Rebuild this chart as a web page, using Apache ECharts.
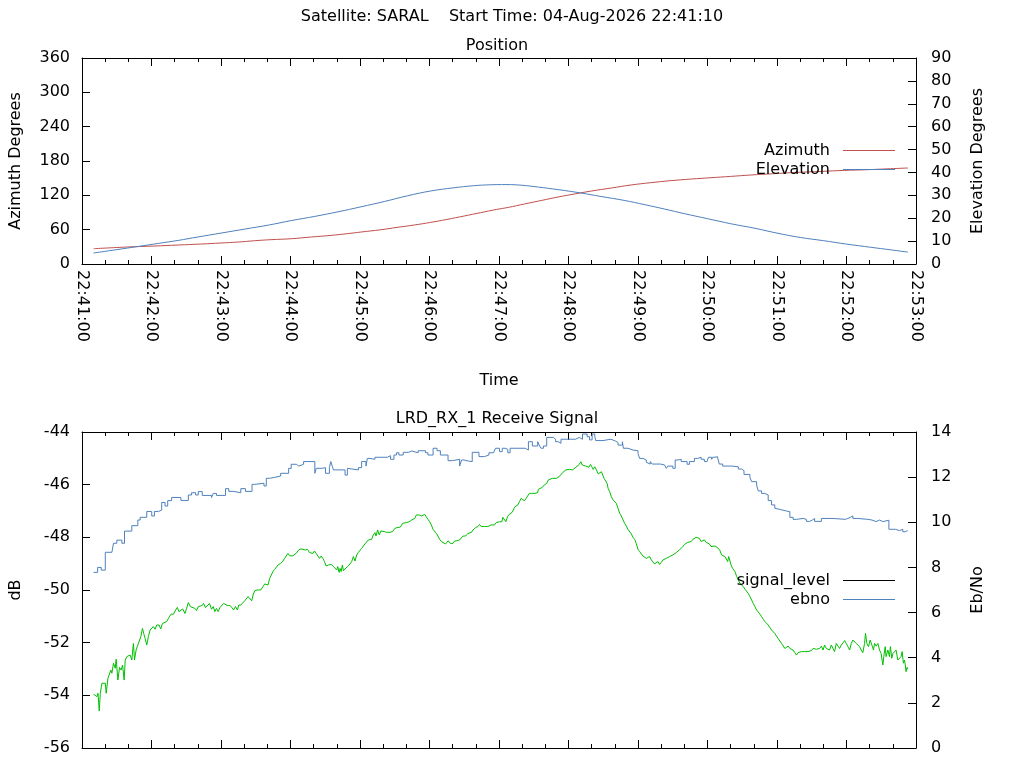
<!DOCTYPE html>
<html>
<head>
    <meta charset="utf-8">
    <title>SARAL pass</title>
    <script src="https://cdn.jsdelivr.net/npm/echarts@6/dist/echarts.min.js"></script>
    <style>
        html, body {
            margin: 0;
            padding: 0;
            background: #ffffff;
        }

        #main {
            width: 1024px;
            height: 768px;
        }
    </style>
</head>
<body>
<div id="main"></div>
<script>
    // time is seconds after 22:41:00
    var timeLabels = ['22:41:00', '22:42:00', '22:43:00', '22:44:00', '22:45:00', '22:46:00', '22:47:00',
        '22:48:00', '22:49:00', '22:50:00', '22:51:00', '22:52:00', '22:53:00'];

    var azimuth = [[10, 26.7], [39, 29.7], [62, 31.4], [83, 33.2], [103, 34.9], [120, 36.7], [135, 38.4], [149, 40.7],
        [163, 42.5], [181, 44.2], [198, 47.2], [215, 50.0], [229, 53.0], [241, 55.9], [258, 59.9], [272, 64.0],
        [287, 68.2], [301, 72.7], [315, 77.9], [330, 83.9], [344, 89.7], [358, 95.4], [368, 98.9], [382, 104.9],
        [397, 111.2], [411, 117.1], [425, 122.3], [440, 127.6], [457, 132.8], [474, 138.1], [491, 142.1],
        [508, 145.6], [526, 148.5], [543, 150.8], [560, 153.1], [577, 155.5], [597, 157.8], [617, 160.1],
        [638, 161.8], [658, 163.6], [678, 164.8], [698, 166.5], [713, 167.8]];

    var elevation = [[10, 4.8], [29, 6.2], [49, 7.7], [66, 9.0], [83, 10.3], [100, 11.8], [120, 13.5], [141, 15.3],
        [161, 17.0], [181, 19.0], [201, 20.8], [221, 22.8], [241, 25.0], [261, 27.3], [281, 29.8], [301, 31.9],
        [321, 33.3], [338, 34.2], [352, 34.6], [366, 34.7], [380, 34.4], [394, 33.6], [411, 32.5], [431, 31.0],
        [448, 29.5], [468, 27.8], [486, 25.9], [503, 24.0], [520, 22.0], [540, 19.8], [560, 17.6], [581, 15.6],
        [600, 13.5], [620, 11.6], [640, 10.2], [660, 8.7], [681, 7.3], [698, 6.2], [713, 5.2]];

    var signalLevel = [[10.0, -53.96], [11.5, -53.92], [12.9, -54.05], [13.8, -53.92], [14.9, -54.59], [15.8, -53.92],
        [17.2, -53.54], [18.6, -53.61], [20.1, -53.54], [20.9, -53.92], [22.4, -53.35], [23.5, -53.29], [24.9, -53.04],
        [25.8, -53.16], [27.2, -52.78], [28.7, -52.97], [29.5, -52.63], [31.0, -53.42], [32.4, -52.94], [33.8, -53.04],
        [35.0, -52.85], [36.4, -53.42], [37.3, -52.66], [38.7, -52.53], [40.1, -52.53], [41.6, -52.47], [43.0, -52.66],
        [44.4, -52.03], [45.3, -52.66], [46.7, -52.28], [48.2, -52.09], [49.3, -52.03], [50.8, -51.77], [52.2, -51.46],
        [53.3, -51.65], [54.5, -51.84], [55.9, -52.09], [57.3, -51.77], [58.8, -51.52], [60.2, -51.58], [61.6, -51.39],
        [63.1, -51.49], [64.5, -51.33], [66.5, -51.33], [68.0, -51.48], [69.4, -51.27], [71.1, -51.27], [73.1, -51.20],
        [75.1, -51.04], [76.8, -50.92], [78.9, -50.92], [80.9, -50.76], [82.3, -50.66], [83.7, -50.82], [85.4, -50.82],
        [86.9, -50.72], [88.9, -50.89], [90.3, -50.70], [91.8, -50.48], [93.5, -50.63], [95.2, -50.67], [97.5, -50.70],
        [98.9, -50.78], [100.4, -50.63], [102.1, -50.63], [103.8, -50.59], [104.9, -50.51], [106.7, -50.67],
        [108.4, -50.63], [110.1, -50.51], [111.8, -50.73], [113.3, -50.63], [114.7, -50.82], [116.1, -50.70],
        [117.6, -50.82], [119.0, -50.67], [120.4, -50.70], [122.2, -50.51], [123.3, -50.57], [125.6, -50.59],
        [127.6, -50.59], [129.6, -50.67], [130.8, -50.76], [132.5, -50.63], [134.2, -50.76], [135.3, -50.57],
        [137.1, -50.57], [138.8, -50.51], [140.5, -50.41], [142.2, -50.34], [143.4, -50.25], [145.1, -50.22],
        [146.5, -50.41], [147.7, -50.19], [149.1, -50.03], [151.4, -50.00], [154.3, -50.00], [156.3, -49.87],
        [157.7, -49.77], [159.1, -49.72], [160.6, -49.81], [162.0, -49.56], [163.4, -49.49], [164.9, -49.30],
        [166.3, -49.22], [167.7, -49.18], [169.2, -49.05], [171.5, -48.99], [173.5, -48.90], [174.9, -48.80],
        [176.3, -48.71], [177.8, -48.61], [179.2, -48.70], [182.1, -48.70], [184.9, -48.61],
        [187.0, -48.48], [189.0, -48.44], [190.7, -48.42], [192.7, -48.48], [194.7, -48.46], [196.4, -48.58],
        [197.8, -48.51], [199.3, -48.61], [200.7, -48.52], [202.2, -48.61], [203.6, -48.67], [205.0, -48.80],
        [206.5, -48.71], [207.9, -48.80], [209.3, -48.92], [210.8, -49.09], [212.8, -49.05], [214.2, -49.09],
        [215.6, -49.03], [217.1, -49.11], [218.5, -49.05], [219.9, -49.24], [220.8, -49.11], [222.0, -49.33],
        [222.8, -49.18], [223.7, -49.30], [224.8, -49.05], [225.7, -49.27], [227.1, -49.22], [229.1, -49.11],
        [231.4, -49.01], [232.8, -48.92], [234.3, -48.73], [235.7, -48.90], [237.1, -48.67], [238.6, -48.57],
        [240.0, -48.51], [241.4, -48.42], [242.9, -48.35], [244.3, -48.25], [245.7, -48.19], [247.2, -48.10],
        [250.0, -48.08], [251.5, -47.91], [252.9, -47.82], [253.8, -47.95], [255.2, -47.72], [256.6, -47.91],
        [258.1, -47.76], [259.5, -47.72], [260.9, -47.78], [262.9, -47.81], [265.8, -47.81], [268.1, -47.78],
        [270.1, -47.66], [272.1, -47.63], [274.9, -47.61], [276.7, -47.47], [278.1, -47.51], [280.1, -47.44],
        [282.4, -47.41], [284.7, -47.34], [287.3, -47.28], [288.7, -47.15], [291.0, -47.15], [293.0, -47.19],
        [294.5, -47.19], [295.9, -47.13], [297.3, -47.19], [298.7, -47.32], [300.2, -47.41], [301.6, -47.53],
        [303.1, -47.70], [304.5, -47.70], [305.9, -47.85], [307.3, -47.95], [308.8, -48.08], [310.2, -48.16],
        [311.6, -48.23], [313.9, -48.25], [315.1, -48.29], [316.2, -48.13], [318.0, -48.23], [320.3, -48.23],
        [321.7, -48.14], [323.7, -48.13], [326.0, -48.10], [327.4, -48.04], [328.9, -47.95], [331.2, -47.95],
        [333.2, -47.85], [336.1, -47.82], [337.5, -47.72], [339.8, -47.63], [341.8, -47.59], [343.2, -47.51],
        [344.7, -47.59], [346.1, -47.66], [347.5, -47.59], [349.0, -47.66], [350.4, -47.59], [351.8, -47.62],
        [353.2, -47.53], [354.7, -47.56], [356.1, -47.53], [357.6, -47.44], [359.0, -47.44], [360.4, -47.41],
        [362.4, -47.41], [363.3, -47.24], [364.7, -47.22],
        [365.9, -47.41], [367.3, -47.22], [368.7, -47.13], [370.5, -47.09], [372.5, -46.96], [373.3, -46.86],
        [374.8, -46.90], [376.2, -46.77], [377.6, -46.65], [379.1, -46.52], [380.5, -46.58], [381.9, -46.61],
        [383.4, -46.52], [384.8, -46.46], [386.2, -46.33], [388.2, -46.33], [391.1, -46.33], [393.4, -46.30],
        [393.9, -46.18], [395.4, -46.14], [397.4, -46.10], [399.1, -46.01], [401.2, -45.95], [402.6, -45.82],
        [404.0, -45.80], [406.0, -45.76], [407.7, -45.80], [409.7, -45.76], [411.8, -45.70], [413.5, -45.66],
        [415.0, -45.54], [416.4, -45.57], [417.8, -45.44], [419.2, -45.51], [420.7, -45.42], [422.1, -45.47],
        [423.5, -45.44], [425.0, -45.42], [426.4, -45.34], [427.8, -45.29], [429.3, -45.23], [430.7, -45.13],
        [431.8, -45.25], [433.3, -45.22], [434.7, -45.29], [436.1, -45.25], [437.6, -45.34], [439.0, -45.23],
        [440.4, -45.34], [441.3, -45.42], [442.7, -45.32], [444.1, -45.44], [445.6, -45.59], [447.0, -45.61],
        [448.4, -45.51], [449.9, -45.57], [450.7, -45.76], [451.9, -45.80], [453.3, -45.95], [454.2, -46.14],
        [455.6, -46.27], [457.0, -46.46], [458.5, -46.58], [459.9, -46.61], [461.3, -46.71], [462.8, -46.90],
        [464.2, -47.09], [465.6, -47.19], [467.1, -47.34], [468.5, -47.47], [469.9, -47.57], [471.4, -47.70],
        [472.8, -47.76], [474.2, -47.87], [475.7, -48.00], [477.1, -48.08], [478.5, -48.23], [480.0, -48.46],
        [481.4, -48.54], [482.8, -48.61], [484.3, -48.71], [485.7, -48.73], [487.2, -48.80], [488.6, -48.80],
        [490.0, -48.73], [491.5, -48.86], [492.9, -48.92], [494.3, -49.01], [495.8, -49.01], [497.2, -48.92],
        [498.6, -49.03], [500.1, -48.95], [501.5, -48.86], [502.9, -48.92], [504.4, -48.80], [505.8, -48.84],
        [507.2, -48.73], [508.7, -48.77], [510.1, -48.67], [511.5, -48.63], [513.0, -48.58], [514.4, -48.51],
        [515.8, -48.48], [517.3, -48.42], [518.7, -48.35], [520.1, -48.27], [521.6, -48.23], [523.0, -48.19],
        [524.4, -48.16], [525.9, -48.16], [527.3, -48.08], [528.7, -48.04], [530.2, -48.00], [531.6, -48.00],
        [533.0, -48.04], [534.5, -48.16], [535.9, -48.10], [537.3, -48.10], [538.8, -48.19], [540.2, -48.23],
        [541.6, -48.25], [543.1, -48.35], [544.5, -48.38],
        [546.5, -48.33], [548.0, -48.35], [549.4, -48.42], [550.8, -48.51], [552.2, -48.67], [553.7, -48.71],
        [555.1, -48.73], [556.6, -48.80], [557.4, -48.92], [558.3, -48.73], [559.4, -48.90], [560.3, -49.05],
        [561.7, -49.18], [563.7, -49.30], [565.2, -49.49], [566.6, -49.62], [568.0, -49.75], [569.5, -49.81],
        [570.9, -49.87], [572.4, -49.97], [573.8, -50.00], [575.2, -50.13], [576.6, -50.25], [578.1, -50.38],
        [579.5, -50.51], [580.9, -50.63], [582.4, -50.76], [583.8, -50.82], [585.2, -50.91], [586.7, -51.01],
        [588.1, -51.11], [589.5, -51.20], [591.0, -51.20], [592.4, -51.33], [593.8, -51.42], [595.3, -51.52],
        [596.7, -51.58], [598.1, -51.65], [599.6, -51.75], [601.0, -51.84], [602.4, -51.90], [603.9, -52.03],
        [605.3, -52.09], [606.8, -52.22], [608.2, -52.18], [609.6, -52.13], [611.1, -52.22], [612.5, -52.22],
        [613.9, -52.28], [615.4, -52.38], [616.8, -52.47], [618.2, -52.38], [619.6, -52.34], [621.1, -52.34],
        [622.5, -52.38], [623.9, -52.34], [625.4, -52.30], [626.8, -52.34], [628.2, -52.28], [629.7, -52.30],
        [631.1, -52.22], [632.5, -52.28], [634.0, -52.25], [635.4, -52.28], [636.8, -52.22], [638.3, -52.13],
        [639.7, -52.28], [641.1, -52.09], [642.6, -52.22], [644.0, -52.15], [645.4, -52.28], [646.9, -52.09],
        [648.3, -52.15], [649.7, -52.34], [651.2, -52.03], [652.6, -52.13], [654.0, -52.22], [655.5, -52.09],
        [656.9, -52.03], [658.4, -51.92], [659.8, -52.03], [661.2, -52.15], [662.7, -52.28], [664.1, -52.03],
        [665.5, -51.90], [667.0, -51.84], [668.4, -52.03], [669.8, -52.09], [671.3, -52.15], [672.7, -52.28],
        [674.1, -52.38], [675.6, -52.03], [676.4, -51.65], [677.6, -52.03], [679.0, -52.15], [680.4, -51.90],
        [681.9, -52.09], [683.3, -52.28], [684.2, -52.03], [685.6, -52.13], [687.1, -52.03], [688.5, -52.28],
        [689.9, -52.41], [691.4, -52.85], [692.2, -52.53], [693.4, -52.15], [694.2, -52.53], [695.7, -52.28],
        [697.1, -52.53], [697.9, -52.15], [699.1, -52.59], [700.1, -52.41], [701.4, -52.47], [702.8, -52.28],
        [704.3, -52.66], [705.7, -52.72], [707.1, -52.53], [708.0, -52.34], [709.1, -52.78], [710.0, -52.66],
        [710.8, -52.85], [711.4, -53.10], [712.3, -52.94], [712.8, -53.01]];

    // ebno is quantised: each pair is where a new level starts
    var ebno = [[10, 7.78], [13.5, 8.0], [16.6, 7.88], [20.1, 8.67], [25.8, 8.59], [27.2, 9.07], [30.1, 9.21],
        [34.4, 9.07], [36.7, 9.61], [43.0, 9.85], [48.2, 10.10], [50.2, 10.22], [55.9, 10.48], [60.2, 10.28],
        [62.5, 10.48], [66.0, 10.54], [68.8, 10.88], [71.7, 10.72], [74.0, 10.96], [77.4, 11.10], [85.4, 10.97],
        [91.8, 11.21], [94.6, 11.31], [98.1, 11.21], [100.4, 11.36], [103.8, 11.19], [111.8, 11.10], [113.3, 11.28],
        [116.1, 11.19], [123.9, 11.49], [126.7, 11.37], [130.5, 11.31], [137.1, 11.49], [141.1, 11.37],
        [146.8, 11.68], [149.1, 11.73], [157.1, 11.61], [159.1, 11.95], [162.0, 11.99], [166.3, 12.05],
        [171.5, 12.17], [178.4, 12.39], [180.6, 12.57], [185.0, 12.49], [187.2, 12.57], [191.3, 12.69],
        [201.0, 12.17], [202.2, 12.39], [207.3, 12.42], [210.2, 12.17], [213.6, 12.42], [214.8, 12.69],
        [216.2, 12.46], [217.1, 12.32], [227.1, 12.09], [229.1, 12.39], [230.8, 12.32], [238.6, 12.42],
        [241.4, 12.69], [245.2, 12.49], [246.3, 12.83], [248.6, 12.79], [252.9, 12.88], [263.5, 12.95],
        [266.4, 12.79], [269.3, 12.98], [271.5, 13.08], [273.6, 12.98], [277.3, 13.10], [281.9, 13.16],
        [284.7, 13.08], [290.2, 13.17], [296.5, 13.08], [298.7, 12.98], [303.1, 13.28], [306.5, 13.17],
        [309.4, 12.98], [316.0, 12.73], [319.7, 12.79], [326.0, 12.49], [327.7, 12.76], [329.7, 12.71],
        [333.8, 12.69], [336.9, 13.10], [342.7, 12.91], [347.5, 12.98], [351.3, 13.08], [355.3, 13.13],
        [357.0, 13.28], [360.4, 13.13], [362.8, 13.28], [365.3, 13.23], [367.6, 13.08], [369.6, 13.28],
        [382.6, 13.20], [385.4, 13.57], [388.8, 13.38], [393.4, 13.57], [395.1, 13.38], [396.3, 13.28],
        [398.3, 13.38], [401.2, 13.76], [406.9, 13.68], [408.9, 13.57], [411.2, 13.50], [413.5, 13.68],
        [426.1, 13.76], [429.3, 13.68], [432.1, 13.91], [436.1, 13.79], [438.2, 13.65], [440.4, 13.91],
        [442.7, 13.79], [443.5, 13.62], [449.9, 13.68], [456.5, 13.60], [460.5, 13.53], [462.8, 13.42],
        [466.5, 13.57], [467.4, 13.28], [471.4, 13.20], [475.7, 13.17], [480.0, 13.05], [481.4, 12.83],
        [484.3, 12.76], [487.2, 12.66], [488.6, 12.58], [490.6, 12.69], [492.3, 12.58], [499.5, 12.54],
        [502.9, 12.46], [504.4, 12.39], [505.8, 12.49], [510.1, 12.39], [512.1, 12.76], [514.4, 12.79],
        [517.3, 12.69], [522.4, 12.57], [524.4, 12.69], [528.7, 12.83], [531.6, 12.88], [534.5, 12.79],
        [537.3, 12.69], [539.6, 12.76], [540.8, 12.88], [543.6, 12.79], [544.5, 12.88], [546.5, 12.91],
        [548.5, 12.88], [550.2, 12.58], [553.1, 12.49], [560.9, 12.46], [566.6, 12.36], [569.5, 12.29],
        [571.5, 12.12], [576.6, 11.99], [578.1, 11.80], [582.4, 11.65], [583.8, 11.39], [586.7, 11.28],
        [589.5, 11.33], [591.0, 11.21], [592.4, 10.96], [595.3, 10.77], [598.1, 10.62], [599.6, 10.57],
        [602.4, 10.50], [608.2, 10.47], [611.1, 10.22], [613.9, 10.13], [616.8, 10.17], [622.5, 10.13],
        [625.4, 10.04], [628.2, 10.10], [630.5, 10.17], [632.5, 10.04], [638.3, 10.17], [648.3, 10.13],
        [659.1, 10.17], [661.2, 10.22], [663.3, 10.28], [665.5, 10.17], [669.8, 10.13], [678.4, 10.07],
        [679.9, 10.10], [681.9, 10.03], [685.6, 10.10], [688.5, 10.03], [691.4, 10.09], [696.6, 9.69],
        [702.3, 9.63], [705.7, 9.69], [708.6, 9.58], [710.6, 9.63], [712.8, 9.61]];

    var FONT = 'DejaVu Sans';
    var txt = {color: '#000', fontFamily: FONT, fontSize: 16};
    var black = {color: '#000', width: 1};

    function timeAxis(grid, pos, showLabel, name) {
        return {
            type: 'value', gridIndex: grid, position: pos,
            min: 0, max: 720, interval: 60,
            name: name || '', nameLocation: 'middle', nameGap: 109, nameTextStyle: txt,
            axisLine: {show: true, onZero: false, lineStyle: black},
            axisTick: {show: true, inside: true, length: 8, lineStyle: black},
            minorTick: {show: true, splitNumber: 3, length: 4, lineStyle: black},
            splitLine: {show: false},
            axisLabel: {
                show: showLabel, rotate: -90, margin: 6, color: '#000', fontFamily: FONT, fontSize: 16,
                formatter: function (v) {
                    return timeLabels[Math.round(v / 60)];
                }
            }
        };
    }

    function valAxis(grid, pos, min, max, step, name, gap) {
        return {
            type: 'value', gridIndex: grid, position: pos,
            min: min, max: max, interval: step,
            name: name, nameLocation: 'middle', nameGap: gap, nameRotate: 90, nameTextStyle: txt,
            axisLine: {show: true, onZero: false, lineStyle: black},
            axisTick: {show: true, inside: true, length: 8, lineStyle: black},
            splitLine: {show: false},
            axisLabel: {margin: pos === 'left' ? 12 : 15, color: '#000', fontFamily: FONT, fontSize: 16}
        };
    }

    function keyBox(top, items) {
        return {
            orient: 'vertical', right: 129, top: top, align: 'right', itemGap: 0,
            icon: 'rect', itemWidth: 52, itemHeight: 1, padding: 0,
            textStyle: {color: '#000', fontFamily: FONT, fontSize: 16, lineHeight: 19, padding: [0, 8, 0, 0]},
            data: items
        };
    }

    var chart = echarts.init(document.getElementById('main'), null, {renderer: 'canvas'});
    var option = {
        backgroundColor: '#ffffff',
        animation: false,
        title: [
            {text: 'Satellite: SARAL    Start Time: 04-Aug-2026 22:41:10', left: 'center', top: 9, padding: 0,
                textStyle: {color: '#000', fontFamily: FONT, fontSize: 16, fontWeight: 'normal'}},
            {text: 'Position', left: 497, textAlign: 'center', top: 38, padding: 0,
                textStyle: {color: '#000', fontFamily: FONT, fontSize: 16, fontWeight: 'normal'}},
            {text: 'LRD_RX_1 Receive Signal', left: 497, textAlign: 'center', top: 411, padding: 0,
                textStyle: {color: '#000', fontFamily: FONT, fontSize: 16, fontWeight: 'normal'}}
        ],
        legend: [
            keyBox(141, ['Azimuth', 'Elevation']),
            keyBox(571, [{name: 'signal_level', itemStyle: {color: '#000'}}, {name: 'ebno'}])
        ],
        grid: [
            {left: 79, right: 108, top: 58, height: 206},
            {left: 79, right: 108, top: 432, height: 316}
        ],
        xAxis: [
            timeAxis(0, 'bottom', true, 'Time'),
            timeAxis(0, 'top', false),
            timeAxis(1, 'bottom', false),
            timeAxis(1, 'top', false)
        ],
        yAxis: [
            valAxis(0, 'left', 0, 360, 60, 'Azimuth Degrees', 58),
            valAxis(0, 'right', 0, 90, 10, 'Elevation Degrees', 54),
            valAxis(1, 'left', -56, -44, 2, 'dB', 58),
            valAxis(1, 'right', 0, 14, 2, 'Eb/No', 54)
        ],
        series: [
            {
                name: 'Azimuth', type: 'line', xAxisIndex: 0, yAxisIndex: 0, data: azimuth,
                symbol: 'none', smooth: 0.4, color: '#c0504d', lineStyle: {width: 1}
            },
            {
                name: 'Elevation', type: 'line', xAxisIndex: 0, yAxisIndex: 1, data: elevation,
                symbol: 'none', smooth: 0.4, color: '#4f81bd', lineStyle: {width: 1}
            },
            {
                name: 'signal_level', type: 'line', xAxisIndex: 2, yAxisIndex: 2, data: signalLevel,
                symbol: 'none', color: '#00c000', lineStyle: {width: 1}
            },
            {
                name: 'ebno', type: 'line', xAxisIndex: 2, yAxisIndex: 3, data: ebno,
                symbol: 'none', step: 'end', color: '#4f81bd', lineStyle: {width: 1}
            }
        ]
    };
    chart.setOption(option);
</script>
</body>
</html>
